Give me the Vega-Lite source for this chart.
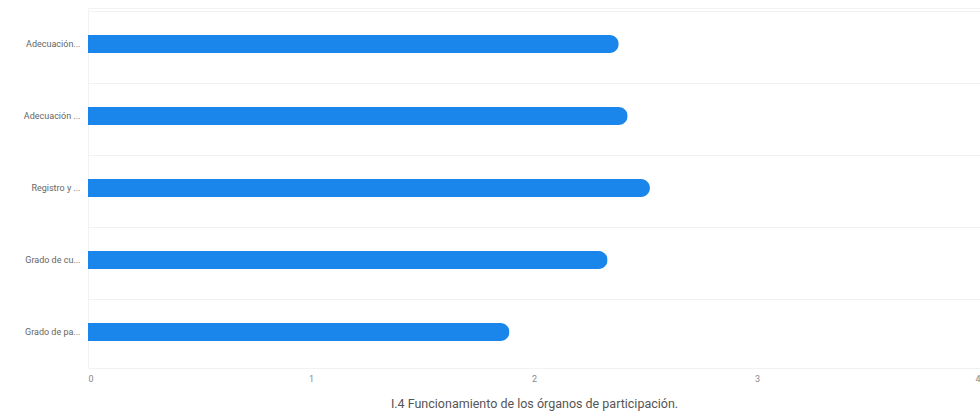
{
  "$schema": "https://vega.github.io/schema/vega-lite/v6.json",
  "autosize": {"type": "none"},
  "padding": {"left": 88, "top": 8, "right": 0, "bottom": 52},
  "width": 892,
  "height": 360,
  "background": "white",
  "data": {"values": [
    {"item": "Adecuación...", "value": 2.38},
    {"item": "Adecuación ...", "value": 2.42},
    {"item": "Registro y ...", "value": 2.52},
    {"item": "Grado de cu...", "value": 2.33},
    {"item": "Grado de pa...", "value": 1.89}
  ]},
  "mark": {"type": "bar", "color": "#1a86ec", "size": 18, "cornerRadiusEnd": 9},
  "encoding": {
    "y": {"field": "item", "type": "nominal", "sort": null,
      "axis": {"title": null, "domain": false, "ticks": false, "labelPadding": 8, "labelFont": "Roboto", "labelFontSize": 9, "labelColor": "#666", "grid": true, "gridColor": "#f2f2f2", "bandPosition": 0}},
    "x": {"field": "value", "type": "quantitative", "scale": {"domain": [0, 4]},
      "axis": {"title": "I.4 Funcionamiento de los órganos de participación.", "titleFont": "Roboto", "titleFontSize": 12.5, "titleFontWeight": "normal", "titleColor": "#555", "titlePadding": 14,
        "tickCount": 4, "labelFlush": true, "domain": false, "ticks": false, "grid": false, "labelFont": "Roboto", "labelFontSize": 9, "labelColor": "#888", "labelPadding": 6}}
  },
  "config": {"view": {"stroke": "#f2f2f2"}}
}
